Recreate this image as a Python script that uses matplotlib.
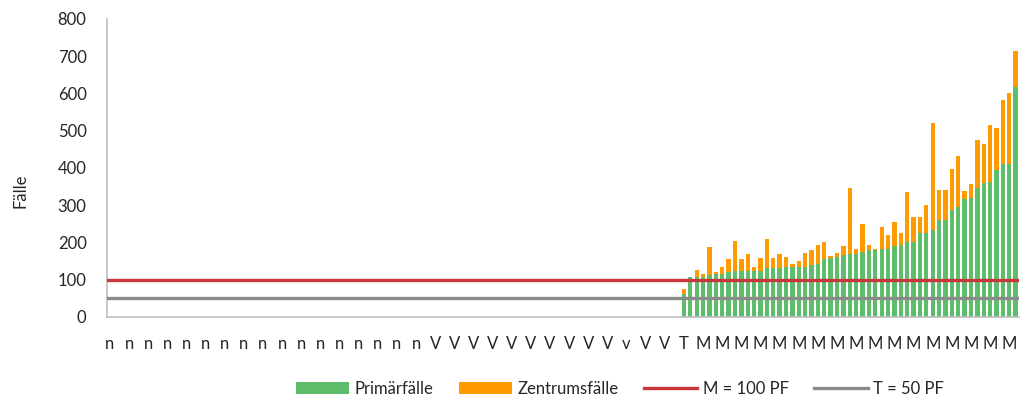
import matplotlib.pyplot as plt
import numpy as np

# Category letters (only every third one is shown on the axis)
categories = (['n'] * 51 + ['V'] * 30 + ['v'] + ['V'] * 8 + ['T'] + ['M'] * 52)

# Bars only exist for the last 53 categories
primary = [62, 106, 106, 107, 111, 114, 115, 119, 122, 122, 123, 123, 123,
           130, 132, 132, 133, 134, 135, 135, 139, 141, 155, 159, 161, 165,
           168, 168, 175, 178, 179, 183, 183, 191, 194, 200, 201, 224, 225,
           234, 261, 261, 288, 294, 316, 320, 347, 359, 363, 394, 409, 410, 616]
total = [74, 108, 126, 115, 188, 121, 134, 156, 203, 156, 169, 133, 157,
         209, 158, 169, 160, 142, 149, 172, 180, 192, 200, 163, 171, 190,
         346, 183, 249, 192, 182, 240, 220, 255, 225, 336, 268, 269, 299,
         519, 340, 340, 397, 433, 338, 357, 475, 464, 516, 506, 582, 601, 715]

M_LEVEL = 100
T_LEVEL = 50

n_cat = len(categories)
n_empty = n_cat - len(primary)
prim = np.array([0] * n_empty + primary, dtype=float)
zentrum = np.array([0] * n_empty + [t - p for t, p in zip(total, primary)], dtype=float)
x = np.arange(n_cat)

plt.rcParams['font.family'] = ['Lato', 'DejaVu Sans']
FS = 12

fig = plt.figure(figsize=(10.26, 4.01), dpi=100)
ax = fig.add_axes([0.104, 0.21, 0.889, 0.743])

b1 = ax.bar(x, prim, width=0.68, color='#5EBD6B', label='Primärfälle', zorder=2)
b2 = ax.bar(x, zentrum, width=0.68, bottom=prim, color='#FF9A00',
            label='Zentrumsfälle', zorder=2)
l1 = ax.axhline(M_LEVEL, color='#C9373A', lw=2.4, label='M = 100 PF', zorder=3)
l2 = ax.axhline(T_LEVEL, color='#8A8A8A', lw=2.4, label='T = 50 PF', zorder=3)

ax.set_xlim(-0.5, n_cat - 0.5)
ax.set_ylim(0, 800)
ax.set_yticks(range(0, 801, 100))
ticks = x[::3]
ax.set_xticks(ticks)
ax.set_xticklabels([categories[i] for i in ticks])
ax.tick_params(axis='both', length=0, labelsize=FS, colors='#262626')
ax.tick_params(axis='x', pad=14)
ax.tick_params(axis='y', pad=14.5)

for s in ['top', 'right']:
    ax.spines[s].set_visible(False)
for s in ['left', 'bottom']:
    ax.spines[s].set_color('#BFBFBF')
    ax.spines[s].set_linewidth(1.2)

fig.text(0.02, 1 - 191 / 401, 'Fälle', rotation=90, fontsize=FS,
         color='#262626', ha='center', va='center')

fig.legend([b1, b2, l1, l2], ['Primärfälle', 'Zentrumsfälle', 'M = 100 PF', 'T = 50 PF'],
           loc='center', bbox_to_anchor=(620 / 1026, 1 - 389 / 401), ncol=4,
           frameon=False, fontsize=FS, handlelength=3.2, columnspacing=1.5,
           handletextpad=0.35, labelcolor='#262626')

fig.savefig('out.png', dpi=100)
